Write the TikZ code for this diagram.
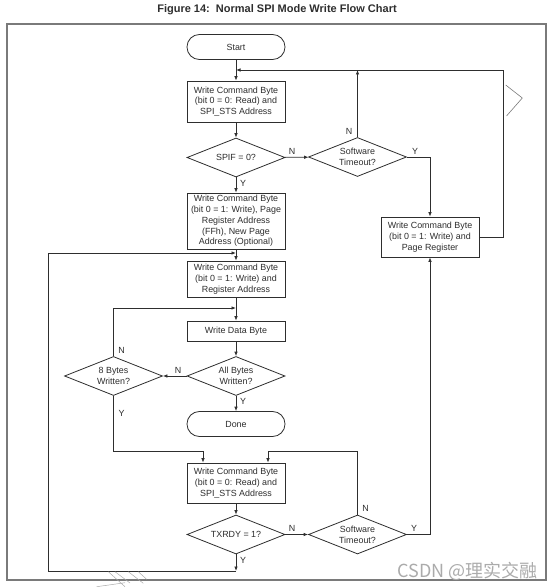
\documentclass[tikz,border=0pt]{standalone}
\usepackage{fontspec}
\setmainfont{Liberation Sans}
\newfontfamily\wmfont{Noto Sans CJK SC}
\usetikzlibrary{shapes.geometric,arrows.meta}
\definecolor{ink}{HTML}{2E2E2E}
\definecolor{framegray}{HTML}{7A7A7A}
\definecolor{wmgray}{HTML}{ABABAB}

\begin{document}
\begin{tikzpicture}
  [x=1pt,y=-1pt,line width=0.8pt,draw=ink,
   every node/.style={font=\fontsize{8.9}{10.8}\selectfont,text=ink},
   box/.style={draw=ink,fill=white,rectangle,minimum width=98pt,inner sep=1pt,align=center},
   test/.style={draw=ink,fill=white,diamond,aspect=2.5,minimum width=98pt,minimum height=39pt,inner sep=0pt,align=center},
   term/.style={draw=ink,fill=white,rectangle,rounded corners=12.4pt,minimum width=98pt,minimum height=25pt},
   lbl/.style={inner sep=0pt},
   flow/.style={draw=ink,-{Latex[length=4.5pt,width=3.6pt]}}]
  \useasboundingbox (0,0) rectangle (554,588);
  \draw[framegray,line width=1.3pt] (7,24) rectangle (546,580);
  \node[font=\fontsize{11}{13}\selectfont\bfseries] (title) at (277,10) {Figure 14:\ \ Normal SPI Mode Write Flow Chart};

  % main column
  \node[term] (start) at (236,47) {Start};
  \node[box,minimum height=41pt] (wrsts) at (236,101.5) {Write Command Byte\\(bit 0 = 0: Read) and\\SPI\_STS Address};
  \node[test] (spif) at (236,157.5) {SPIF = 0?};
  \node[box,minimum height=56pt] (wrpage) at (236,221) {Write Command Byte\\(bit 0 = 1: Write), Page\\Register Address\\(FFh), New Page\\Address (Optional)};
  \node[box,minimum height=36pt] (wrreg) at (236,279) {Write Command Byte\\(bit 0 = 1: Write) and\\Register Address};
  \node[box,minimum height=20pt] (wrdata) at (236,331) {Write Data Byte};
  \node[test] (allb) at (236,376) {All Bytes\\Written?};
  \node[test] (eightb) at (113.5,376) {8 Bytes\\Written?};
  \node[term] (done) at (236,424) {Done};
  \node[box,minimum height=40pt] (rdsts) at (236,483) {Write Command Byte\\(bit 0 = 0: Read) and\\SPI\_STS Address};
  \node[test] (txrdy) at (236,534.5) {TXRDY = 1?};

  % timeout branch
  \node[test] (swto) at (357.5,157) {Software\\Timeout?};
  \node[test] (swtob) at (357.5,534.5) {Software\\Timeout?};
  \node[box,minimum height=40pt] (pgreg) at (430,237) {Write Command Byte\\(bit 0 = 1: Write) and\\Page Register};

  % junctions
  \coordinate (jtop) at (236,70);
  \coordinate (rloop) at (503.5,70);
  \coordinate (jmid) at (236,253);
  \coordinate (jlow) at (236,308);
  \coordinate (jbot) at (236,571);
  \coordinate (lcorner) at (48,571);
  \coordinate (entl) at (203,451);
  \coordinate (entr) at (268,451);

  \foreach \from/\to in {start/wrsts,wrsts/spif,spif/wrpage,wrpage/wrreg,wrreg/wrdata,
      wrdata/allb,allb/done,rdsts/txrdy,spif/swto,txrdy/swtob,allb/eightb}
    \draw[flow] (\from) -- (\to);

  \draw[flow] (swto.north) -- (swto.north |- jtop);
  \draw[flow] (swto.east) -| (pgreg.north);
  \draw[flow] (pgreg.east) -| (rloop) -- (jtop);
  \draw[flow] (txrdy.south) -- (jbot);
  \draw[flow] (jbot) -- (lcorner) |- (jmid);
  \draw[flow] (eightb.north) |- (jlow);
  \draw[flow] (eightb.south) |- (entl) -- (entl |- rdsts.north);
  \draw[flow] (swtob.north) |- (entr) -- (entr |- rdsts.north);
  \draw[flow] (swtob.east) -| (pgreg.south);

  % Y / N labels
  \node[lbl] (n1) at (292,151) {N};
  \node[lbl] (n2) at (349,131) {N};
  \node[lbl] (y1) at (415,151) {Y};
  \node[lbl] (y2) at (243,183) {Y};
  \node[lbl] (n3) at (121.7,350) {N};
  \node[lbl] (n4) at (178,370) {N};
  \node[lbl] (y3) at (243,401) {Y};
  \node[lbl] (y4) at (121.7,413) {Y};
  \node[lbl] (n5) at (365.7,508) {N};
  \node[lbl] (n6) at (292,528) {N};
  \node[lbl] (y5) at (414,528) {Y};
  \node[lbl] (y6) at (243,560) {Y};

  % scan marks
  \draw[framegray,line width=0.6pt] (505.7,85) -- (522.3,98) -- (506.5,116);
  \draw[wmgray,line width=0.5pt] (108.3,571.7) -- (125,586.7) (115,571.7) -- (130,583)
    (128.3,571.7) -- (143.3,583.3) (138.3,571.7) -- (146.7,579.3) (96.7,586.7) -- (125,582.7);
  \node[font=\wmfont\fontsize{18}{20}\selectfont,text=wmgray,anchor=east,inner sep=0pt] (wm) at (538,571) {CSDN @理实交融};
\end{tikzpicture}
\end{document}
